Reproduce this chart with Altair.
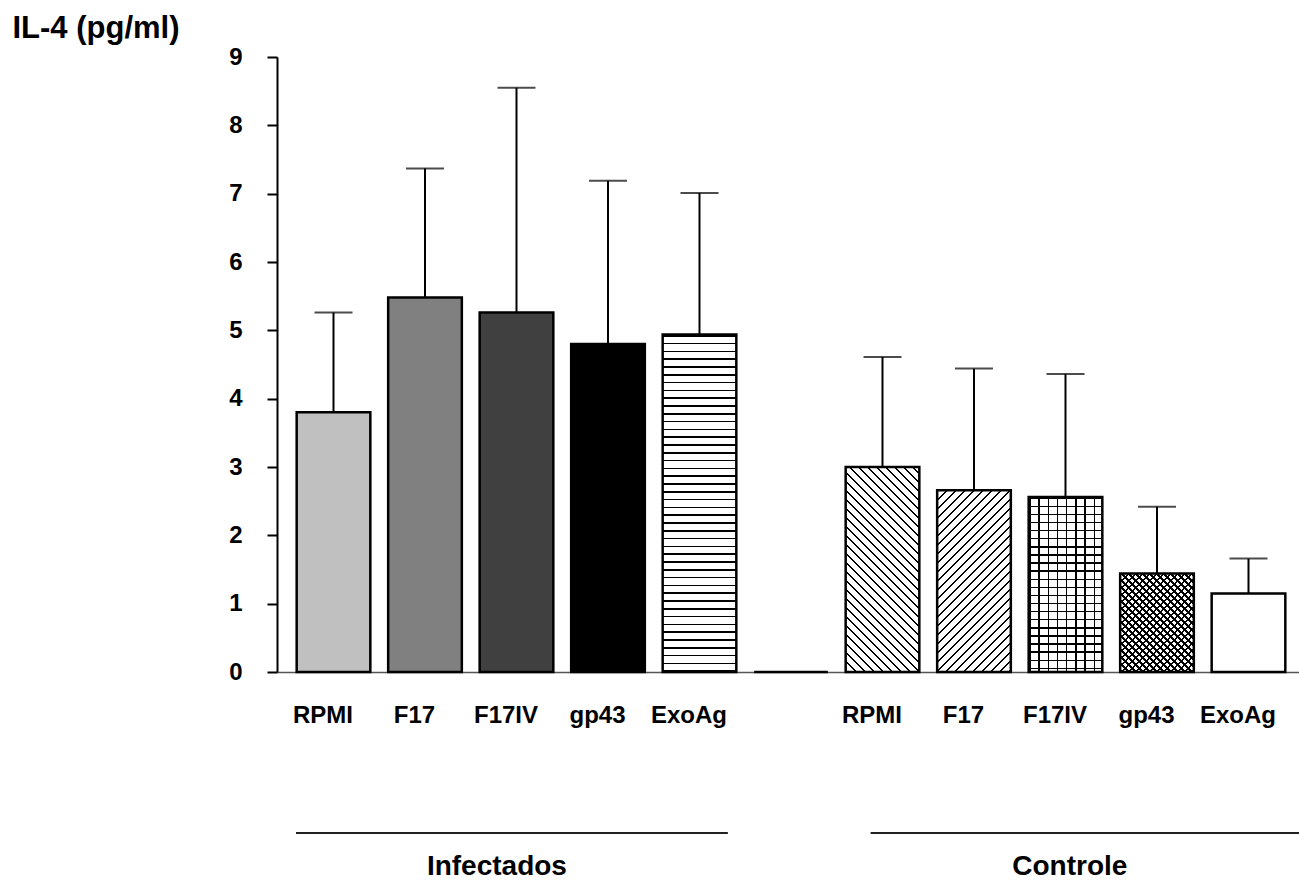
import json
import altair as alt
import pandas as pd

# ---------------- data ----------------
slots = list(range(11))
groups = ["Infectados"] * 5 + [""] + ["Controle"] * 5
categories = ["RPMI", "F17", "F17IV", "gp43", "ExoAg", "",
              "RPMI", "F17", "F17IV", "gp43", "ExoAg"]
means = [3.80, 5.48, 5.26, 4.80, 4.94, 0.00, 3.00, 2.66, 2.56, 1.44, 1.15]
sds = [1.46, 1.89, 3.29, 2.39, 2.07, 0.00, 1.61, 1.78, 1.80, 0.98, 0.51]
y_ticks = list(range(10))
group_names = ["Infectados", "Controle"]

# ---------------- styles / layout ----------------
styles = ["#c0c0c0", "#808080", "#404040", "#000000", "hlines", "",
          "bdiag", "fdiag", "grid", "cross", "#ffffff"]
W, H = 1022, 615
XMIN, XMAX = -0.6175, 10.552
YMAX = 9
PXX = W / (XMAX - XMIN)
PXY = H / YMAX
HALF = 0.4025
LABEL_SHIFT = 0.12  # labels sit slightly left of bar centres
group_line_start = [-0.41, 5.87]
group_line_end = [4.31, XMAX]
FONT = "Liberation Sans"
WHITE = "#ffffff"
CLEAR = "rgba(0,0,0,0)"

df = pd.DataFrame({
    "slot": slots, "group": groups, "cat": categories,
    "mean": means, "sd": sds, "style": styles,
})
df["x0"] = df["slot"] - HALF
df["x1"] = df["slot"] + HALF
df["zero"] = 0.0
df["up"] = df["mean"] + df["sd"]

gdf = pd.DataFrame({"name": group_names, "start": group_line_start, "end": group_line_end})
gdf["center"] = (gdf["start"] + gdf["end"]) / 2


def stripe_stops(span, period, thick, phase, bg):
    stops = [{"offset": 0, "color": bg}]
    p = phase
    while p < span:
        a = max(p, 0) / span
        b = min(p + thick, span) / span
        if b > a:
            a, b = round(a, 5), round(b, 5)
            stops += [{"offset": a, "color": bg}, {"offset": a, "color": "#000000"},
                      {"offset": b, "color": "#000000"}, {"offset": b, "color": bg}]
        p += period
    stops.append({"offset": 1, "color": bg})
    return stops


def gradient(kind, w, h, period, thick, bg):
    if kind == "h":
        span, c = h, (0, 0, 0, 1)
    elif kind == "v":
        span, c = w, (0, 0, 1, 0)
    else:
        s = (w + h) / (w * w + h * h)
        span = w + h
        c = (0, 0, s * w, s * h) if kind == "f" else (0, 1, s * w, 1 - s * h)
    return {"gradient": "linear", "x1": c[0], "y1": c[1], "x2": c[2], "y2": c[3],
            "stops": stripe_stops(span, period, thick, 0.5, bg)}


patterns = {
    "hlines": [("h", 7.8, 1.6, WHITE)],
    "bdiag": [("b", 9.0, 2.0, WHITE)],
    "fdiag": [("f", 9.0, 2.0, WHITE)],
    "grid": [("h", 8.1, 1.4, WHITE), ("v", 9.2, 1.4, CLEAR)],
    "cross": [("b", 7.0, 2.4, WHITE), ("f", 7.0, 2.4, CLEAR)],
}

x_scale = alt.Scale(domain=[XMIN, XMAX], nice=False, zero=False)
y_scale = alt.Scale(domain=[0, YMAX], nice=False)

label_expr = json.dumps(categories) + "[round(datum.value + %s)]" % LABEL_SHIFT
x_axis = alt.Axis(values=[s - LABEL_SHIFT for s, c in zip(slots, categories) if c],
                  labelExpr=label_expr, title=None, ticks=False, tickSize=0,
                  grid=False, domainColor="#555555", domainWidth=1.5,
                  labelFont=FONT, labelFontSize=24, labelFontWeight="bold",
                  labelColor="black", labelPadding=31,
                  labelAlign="center", labelBaseline="top")
y_axis = alt.Axis(values=y_ticks, grid=False, tickSize=10, tickWidth=2,
                  tickColor="black", domainColor="black", domainWidth=2,
                  labelFont=FONT, labelFontSize=24, labelFontWeight="bold",
                  labelColor="black", labelPadding=25,
                  title="IL-4 (pg/ml)", titleAngle=0, titleX=-265, titleY=-20,
                  titleAlign="left", titleBaseline="alphabetic",
                  titleFont=FONT, titleFontSize=31, titleFontWeight="bold",
                  titleColor="black")


def bar_enc(chart):
    return chart.encode(
        x=alt.X("x0:Q", scale=x_scale, axis=x_axis),
        x2="x1:Q",
        y=alt.Y("mean:Q", scale=y_scale, axis=y_axis),
        y2="zero:Q",
    )


base = alt.Chart(df)
layers = []

# solid fills
solid = bar_enc(base.transform_filter("indexof(datum.style, '#') == 0")
                .mark_bar(strokeWidth=0)).encode(fill=alt.Fill("style:N", scale=None))
layers.append(solid)

# patterned fills
w_px = 2 * HALF * PXX
for s, m, st in zip(slots, means, styles):
    if st in patterns:
        h_px = m * PXY
        for kind, period, thick, bg in patterns[st]:
            g = gradient(kind, w_px, h_px, period, thick, bg)
            layers.append(bar_enc(alt.Chart(df[df["slot"] == s])
                                  .mark_bar(fill=g, strokeWidth=0)))

# outlines
layers.append(bar_enc(base.mark_bar(fillOpacity=0, stroke="black", strokeWidth=2.5)))

# error bars (upper only)
err = alt.Chart(df[df["sd"] > 0])
layers.append(err.mark_rule(color="black", strokeWidth=2).encode(
    x=alt.X("slot:Q", scale=x_scale, axis=x_axis),
    y=alt.Y("mean:Q", scale=y_scale, axis=y_axis),
    y2="up:Q"))
layers.append(err.mark_tick(color="black", orient="horizontal", size=38, thickness=2).encode(
    x=alt.X("slot:Q", scale=x_scale, axis=x_axis),
    y=alt.Y("up:Q", scale=y_scale, axis=y_axis)))

# group lines and labels
gbase = alt.Chart(gdf)
layers.append(gbase.mark_rule(color="#222222", strokeWidth=2).encode(
    x=alt.X("start:Q", scale=x_scale, axis=x_axis),
    x2="end:Q",
    y=alt.value(776)))
layers.append(gbase.mark_text(font=FONT, fontSize=28, fontWeight="bold", color="black",
                              baseline="middle", align="center", dx=-15).encode(
    x=alt.X("center:Q", scale=x_scale, axis=x_axis),
    y=alt.value(810),
    text="name:N"))

chart = alt.layer(*layers).properties(
    width=W, height=H,
    padding={"left": 277, "top": 57, "right": 0, "bottom": 218},
    autosize=alt.AutoSizeParams(type="none"),
    background="white",
).configure_view(strokeWidth=0)

chart.save("out.html", embed_options={"renderer": "svg", "actions": False})
